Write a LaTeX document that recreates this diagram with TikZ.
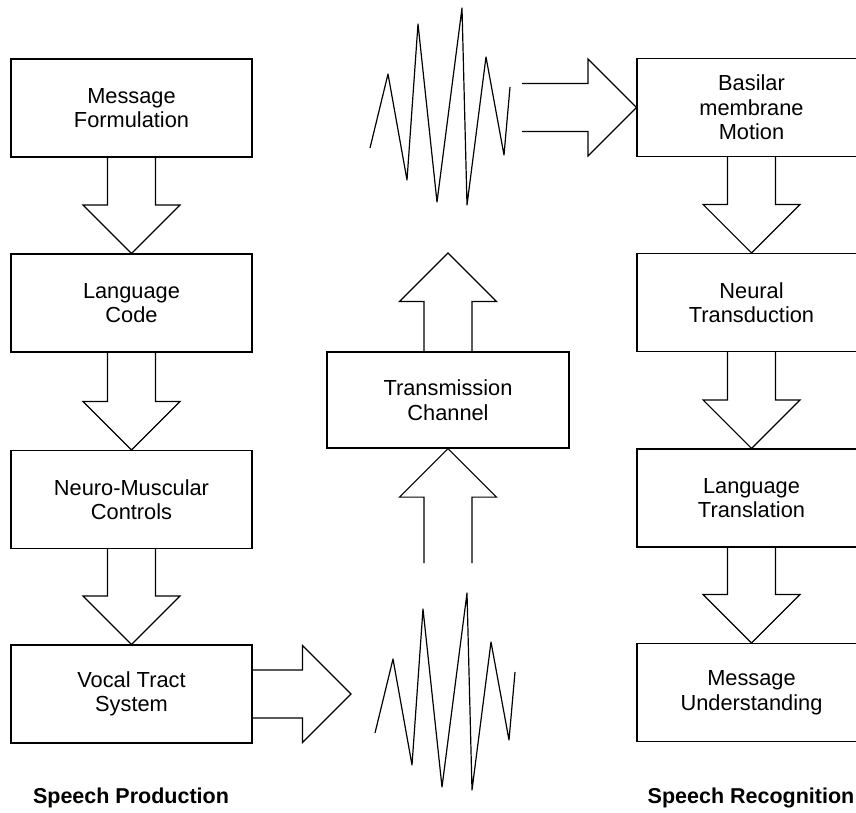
\documentclass[tikz,border=0pt]{standalone}
\usepackage{fontspec}
\setmainfont{Liberation Sans}
\usetikzlibrary{calc}
\begin{document}
\begin{tikzpicture}[x=1pt,y=-1pt,
  stage/.style={draw, line width=1.2pt, align=center, inner sep=0pt,
    font=\fontsize{21.8}{24.5}\selectfont},
  lbox/.style={stage, minimum width=241pt, minimum height=98pt},
  rbox/.style={stage, minimum width=229pt, minimum height=98pt},
  cbox/.style={stage, minimum width=242pt, minimum height=96pt},
  caption/.style={font=\bfseries\fontsize{21.5}{24}\selectfont},
  % open block arrow: shaft from the start, triangular head ending on the target
  blockarrow/.style={line width=1.2pt, to path={
    let \p1=($(\tikztotarget)!48.5pt!(\tikztostart)$) in
    ($(\tikztostart)!24pt!90:(\tikztotarget)$)
    -- ($(\p1)!24pt!90:(\tikztotarget)$)
    -- ($(\p1)!48.5pt!90:(\tikztotarget)$)
    -- (\tikztotarget)
    -- ($(\p1)!48.5pt!-90:(\tikztotarget)$)
    -- ($(\p1)!24pt!-90:(\tikztotarget)$)
    -- ($(\tikztostart)!24pt!-90:(\tikztotarget)$)}},
  wave/.pic={\draw[line width=1.2pt, line join=round]
    (0,0) -- (18,-74) -- (37,32) -- (48,-124) -- (67,54) -- (92,-140)
    -- (97,57) -- (116,-91) -- (134,7) -- (140,-61);}
]
\path[use as bounding box, clip] (0,0) rectangle (856,812);

% speech production chain
\node[lbox] (mf) at (131.5,108) {Message\\Formulation};
\node[lbox] (lc) at (131.5,303) {Language\\Code};
\node[lbox] (nm) at (131.5,499.5) {Neuro-Muscular\\Controls};
\node[lbox] (vt) at (131.5,694) {Vocal Tract\\System};
\node[caption] (sp) at (131,798) {Speech Production};

\draw[blockarrow] (mf.south) to (lc.north);
\draw[blockarrow] (lc.south) to (nm.north);
\draw[blockarrow] (nm.south) to (vt.north);

% transmission channel
\node[cbox] (tc) at (448,400) {Transmission\\Channel};
\coordinate (outV) at (351,694);
\coordinate (chTop) at (448,253);
\coordinate (chBot) at (448,563);
\coordinate (inR) at (522,107.5);

\draw[blockarrow] (vt.east) to (outV);
\draw[blockarrow] (chBot) to (tc.south);
\draw[blockarrow] (tc.north) to (chTop);

\pic at (370,148) {wave};
\pic at (375,733) {wave};

% speech recognition chain
\node[rbox] (bm) at (751.5,107.5) {Basilar\\membrane\\Motion};
\node[rbox] (nt) at (751.5,302.5) {Neural\\Transduction};
\node[rbox] (lt) at (751.5,498) {Language\\Translation};
\node[rbox] (mu) at (751.5,692.5) {Message\\Understanding};
\node[caption] (sr) at (751,798) {Speech Recognition};

\draw[blockarrow] (inR) to (bm.west);
\draw[blockarrow] (bm.south) to (nt.north);
\draw[blockarrow] (nt.south) to (lt.north);
\draw[blockarrow] (lt.south) to (mu.north);
\end{tikzpicture}
\end{document}
